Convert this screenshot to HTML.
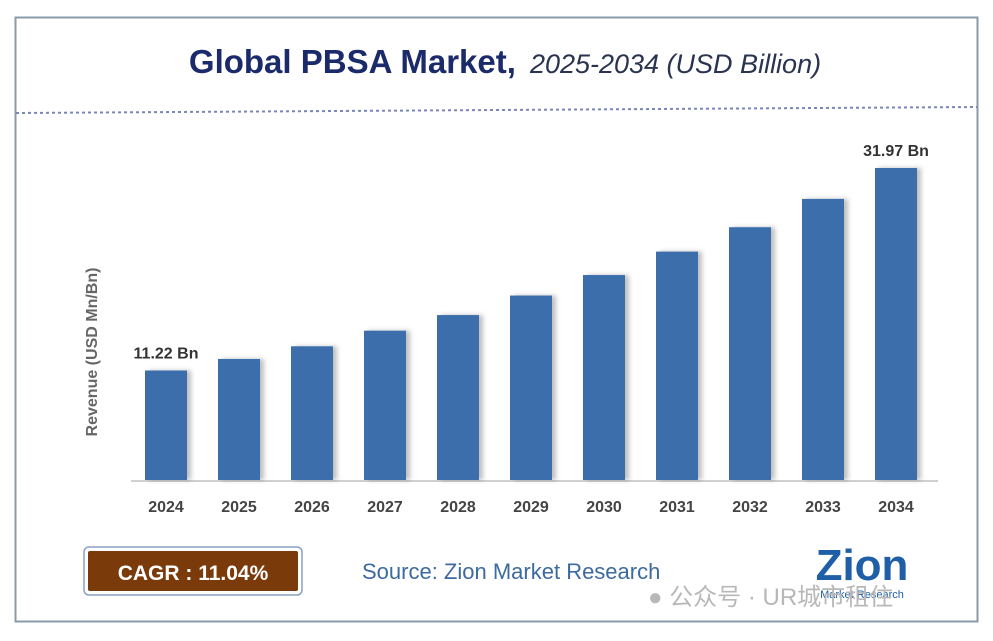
<!DOCTYPE html>
<html><head><meta charset="utf-8"><style>
body{margin:0;background:#fff;width:993px;height:636px;overflow:hidden;font-family:"Liberation Sans",sans-serif}
</style></head><body>
<svg width="993" height="636" viewBox="0 0 993 636">
<defs><filter id="sh" x="-20%" y="-5%" width="160%" height="110%"><feDropShadow dx="4" dy="0" stdDeviation="2.5" flood-color="#000" flood-opacity="0.25"/></filter></defs>
<rect x="15.5" y="17.5" width="962" height="604" fill="#fff" stroke="#8a9aa8" stroke-width="2"/>
<text x="505" y="73" text-anchor="middle" font-size="33" fill="#1b2a6b"><tspan font-weight="bold">Global PBSA Market,</tspan><tspan font-style="italic" font-size="27" fill="#2a3350" dx="14">2025-2034 (USD Billion)</tspan></text>
<line x1="16" y1="113" x2="977" y2="107" stroke="#7b86b8" stroke-width="2" stroke-dasharray="3,3"/>
<text transform="translate(97,352) rotate(-90)" text-anchor="middle" font-size="16" font-weight="bold" fill="#666">Revenue (USD Mn/Bn)</text>
<line x1="131" y1="481" x2="938" y2="481" stroke="#d0d0d0" stroke-width="2"/>
<g id="bars"></g>
<rect x="84" y="547" width="218" height="48" rx="5" fill="#fff" stroke="#8aa0c0" stroke-width="1.5"/>
<rect x="88" y="551" width="210" height="40" rx="2" fill="#7a3a0a"/>
<text x="193" y="580" text-anchor="middle" font-size="21" font-weight="bold" fill="#fff">CAGR : 11.04%</text>
<text x="362" y="579" font-size="22" fill="#3d6aa0">Source: Zion Market Research</text>
<text x="862" y="580" text-anchor="middle" font-size="44" font-weight="bold" fill="#1f5fa8">Zion</text>
<text x="862" y="598" text-anchor="middle" font-size="11" fill="#1f5fa8">Market Research</text>
<text x="648" y="605" font-size="24" fill="#b8b8b8" font-family="'Liberation Sans','Noto Sans CJK SC',sans-serif">● 公众号 · UR城市租住</text>
</svg>
<script>
const categories=["2024","2025","2026","2027","2028","2029","2030","2031","2032","2033","2034"];
const values=[11.22,12.4,13.7,15.3,16.9,18.9,21.0,23.4,25.9,28.8,31.97];
const valueLabels=["11.22 Bn","","","","","","","","","","31.97 Bn"];
const NS="http://www.w3.org/2000/svg";
const base=480,scale=9.76,x0=166,step=73,bw=42;
const yPos=v=>base-v*scale;
const xPos=i=>x0+i*step;
const g=document.getElementById('bars');
categories.forEach((c,i)=>{
  const r=document.createElementNS(NS,'rect');
  r.setAttribute('x',xPos(i)-bw/2);r.setAttribute('y',yPos(values[i]));
  r.setAttribute('width',bw);r.setAttribute('height',base-yPos(values[i]));
  r.setAttribute('fill','#3a6eab');r.setAttribute('filter','url(#sh)');
  
  
  g.appendChild(r);
  const t=document.createElementNS(NS,'text');
  t.setAttribute('x',xPos(i));t.setAttribute('y',512);t.setAttribute('text-anchor','middle');
  t.setAttribute('font-size','16');t.setAttribute('font-weight','bold');t.setAttribute('fill','#444');
  t.textContent=c;
  
  
  g.appendChild(t);
  if(valueLabels[i]){
    const l=document.createElementNS(NS,'text');
    l.setAttribute('x',xPos(i));l.setAttribute('y',yPos(values[i])-12);l.setAttribute('text-anchor','middle');
    l.setAttribute('font-size','16');l.setAttribute('font-weight','bold');l.setAttribute('fill','#333');
    l.textContent=valueLabels[i];
    
    
    g.appendChild(l);
  }
});
</script>
</body></html>
